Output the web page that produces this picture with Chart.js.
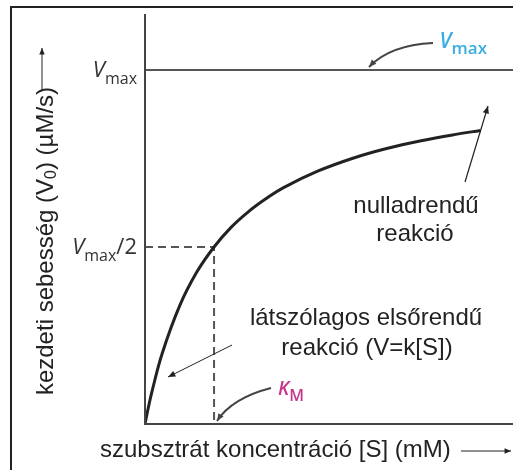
<!DOCTYPE html>
<html lang="hu">
<head>
    <meta charset="utf8" />
    <script src="https://cdn.jsdelivr.net/npm/chart.js@4.4.1/dist/chart.umd.min.js"></script>
    <title>Michaelis-Menten</title>
    <style>
        body { margin: 0; background: #fff; }
        canvas { display: block; }
    </style>
</head>
<body>
    <canvas id="mmChart" width="513" height="470"></canvas>

    <script>
        // substrate concentration in units of Km, rate in units of Vmax
        const sConc = [0, 0.05, 0.1, 0.25, 0.5, 0.75, 1, 1.25, 1.5, 1.75, 2, 2.5, 3, 3.5, 4, 4.5, 4.86];
        const v0 = [0, 0.048, 0.091, 0.2, 0.333, 0.429, 0.5, 0.556, 0.6, 0.636, 0.667, 0.714, 0.75, 0.778, 0.8, 0.818, 0.829];
        const vMax = 1;
        const kM = 1;
        const xMax = 5.33;
        const yMax = 1.158;

        // y tick labels: value, italic main, subscript, rest
        const yTickValues = [vMax, vMax / 2];
        const yTickMain = ['V', 'V'];
        const yTickSub = ['max', 'max'];
        const yTickRest = ['', '/2'];

        const FONT = '"Liberation Sans", Arial, sans-serif';
        const ITFONT = '"Open Sans", "Noto Sans", sans-serif';

        function arrowHead(ctx, x1, y1, x2, y2, size) {
            const a = Math.atan2(y2 - y1, x2 - x1);
            ctx.beginPath();
            ctx.moveTo(x2, y2);
            ctx.lineTo(x2 - size * Math.cos(a - 0.4), y2 - size * Math.sin(a - 0.4));
            ctx.lineTo(x2 - size * Math.cos(a + 0.4), y2 - size * Math.sin(a + 0.4));
            ctx.closePath();
            ctx.fill();
        }

        function arrow(ctx, x1, y1, x2, y2, color, w, size) {
            ctx.strokeStyle = color;
            ctx.fillStyle = color;
            ctx.lineWidth = w;
            ctx.beginPath();
            ctx.moveTo(x1, y1);
            ctx.lineTo(x2, y2);
            ctx.stroke();
            arrowHead(ctx, x1, y1, x2, y2, size);
        }

        function curvedArrow(ctx, x1, y1, cx, cy, x2, y2, color) {
            ctx.strokeStyle = color;
            ctx.fillStyle = color;
            ctx.lineWidth = 2;
            ctx.beginPath();
            ctx.moveTo(x1, y1);
            ctx.quadraticCurveTo(cx, cy, x2, y2);
            ctx.stroke();
            arrowHead(ctx, cx, cy, x2, y2, 8);
        }

        // italic main letter + subscript (+ rest), right aligned at x
        function subLabel(ctx, main, sub, rest, xRight, y, color, size, subSize, weight) {
            const wt = weight || 'normal';
            ctx.textBaseline = 'alphabetic';
            ctx.font = `italic ${wt} ${size}px ${ITFONT}`;
            const wMain = ctx.measureText(main).width;
            ctx.font = `${wt} ${subSize}px ${ITFONT}`;
            const wSub = ctx.measureText(sub).width;
            ctx.font = `${wt} ${size}px ${ITFONT}`;
            const wRest = ctx.measureText(rest).width;
            let x = xRight - wMain - wSub - wRest;
            ctx.fillStyle = color;
            ctx.textAlign = 'left';
            ctx.font = `italic ${wt} ${size}px ${ITFONT}`;
            ctx.fillText(main, x, y);
            x += wMain;
            ctx.font = `${wt} ${subSize}px ${ITFONT}`;
            ctx.fillText(sub, x, y + size * 0.3);
            x += wSub;
            ctx.font = `${wt} ${size}px ${ITFONT}`;
            ctx.fillText(rest, x, y);
        }

        const overlay = {
            id: 'overlay',
            beforeDraw(chart) {
                const { ctx } = chart;
                ctx.save();
                ctx.fillStyle = '#fff';
                ctx.fillRect(0, 0, chart.width, chart.height);
                // frame
                ctx.strokeStyle = '#222';
                ctx.lineWidth = 2;
                ctx.strokeRect(11, 7, chart.width + 20, chart.height + 20);
                ctx.restore();
            },
            afterDatasetsDraw(chart) {
                const { ctx, chartArea, scales: { x, y } } = chart;
                ctx.save();

                // axes
                ctx.strokeStyle = '#444';
                ctx.lineWidth = 2;
                ctx.beginPath();
                ctx.moveTo(chartArea.left, chartArea.top);
                ctx.lineTo(chartArea.left, chartArea.bottom);
                ctx.lineTo(chartArea.right, chartArea.bottom);
                ctx.stroke();

                // y tick labels
                yTickValues.forEach((v, i) => {
                    subLabel(ctx, yTickMain[i], yTickSub[i], yTickRest[i],
                        chartArea.left - 8, y.getPixelForValue(v) + 7, '#333', 22, 16);
                });

                // axis titles
                ctx.fillStyle = '#222';
                ctx.font = `24px ${FONT}`;
                ctx.textBaseline = 'middle';
                ctx.textAlign = 'left';
                ctx.fillText('szubsztrát koncentráció [S] (mM)', 100, 450);
                arrow(ctx, 461, 451, 511, 451, '#222', 1, 7);

                ctx.save();
                ctx.translate(46, 241);
                ctx.rotate(-Math.PI / 2);
                ctx.fillStyle = '#222';
                ctx.textAlign = 'left';
                ctx.textBaseline = 'middle';
                const parts = ['kezdeti sebesség (V', '0', ') (µM/s)'];
                ctx.font = `24px ${FONT}`;
                const w0 = ctx.measureText(parts[0]).width;
                const w2 = ctx.measureText(parts[2]).width;
                ctx.font = `16px ${FONT}`;
                const w1 = ctx.measureText(parts[1]).width;
                let tx = -(w0 + w1 + w2) / 2;
                ctx.font = `24px ${FONT}`;
                ctx.fillText(parts[0], tx, 0);
                tx += w0;
                ctx.font = `16px ${FONT}`;
                ctx.fillText(parts[1], tx, 6);
                tx += w1;
                ctx.font = `24px ${FONT}`;
                ctx.fillText(parts[2], tx, 0);
                ctx.restore();
                arrow(ctx, 42, 90, 42, 48, '#222', 1, 7);

                // Vmax annotation (blue)
                subLabel(ctx, 'V', 'max', '', 487, 48, '#3aaee0', 21, 17, '600');
                curvedArrow(ctx, 433, 43, 390, 45, 369, 67, '#444');

                // Km annotation (magenta)
                subLabel(ctx, 'K', 'M', '', 304, 395, '#c8358f', 19, 16, '600');
                curvedArrow(ctx, 271, 388, 232, 398, 217, 421, '#444');

                // zero order
                ctx.fillStyle = '#222';
                ctx.font = `24px ${FONT}`;
                ctx.textAlign = 'center';
                ctx.textBaseline = 'middle';
                ctx.fillText('nulladrendű', 416, 206);
                ctx.fillText('reakció', 415, 234);
                arrow(ctx, 465, 182, 488, 106, '#222', 1.2, 8);

                // first order
                ctx.fillStyle = '#222';
                ctx.textAlign = 'center';
                ctx.fillText('látszólagos elsőrendű', 366, 318);
                ctx.fillText('reakció (V=k[S])', 367, 348);
                arrow(ctx, 232, 345, 168, 377, '#222', 1, 8);

                ctx.restore();
            }
        };

        new Chart(document.getElementById('mmChart'), {
            type: 'line',
            data: {
                datasets: [
                    {
                        label: 'V0',
                        data: sConc.map((s, i) => ({ x: s, y: v0[i] })),
                        borderColor: '#222',
                        borderWidth: 3,
                        pointRadius: 0,
                        tension: 0.4
                    },
                    {
                        label: 'Vmax',
                        data: [{ x: 0, y: vMax }, { x: xMax, y: vMax }],
                        borderColor: '#555',
                        borderWidth: 2,
                        pointRadius: 0
                    },
                    {
                        label: 'Km',
                        data: [{ x: 0, y: vMax / 2 }, { x: kM, y: vMax / 2 }, { x: kM, y: 0 }],
                        borderColor: '#555',
                        borderWidth: 2,
                        borderDash: [8, 5],
                        pointRadius: 0
                    }
                ]
            },
            options: {
                responsive: false,
                animation: false,
                layout: { padding: { left: 145, top: 14, right: 0, bottom: 46 } },
                scales: {
                    x: { type: 'linear', min: 0, max: xMax, display: false },
                    y: { min: 0, max: yMax, display: false }
                },
                plugins: {
                    legend: { display: false },
                    tooltip: { enabled: false }
                }
            },
            plugins: [overlay]
        });
    </script>
</body>
</html>
